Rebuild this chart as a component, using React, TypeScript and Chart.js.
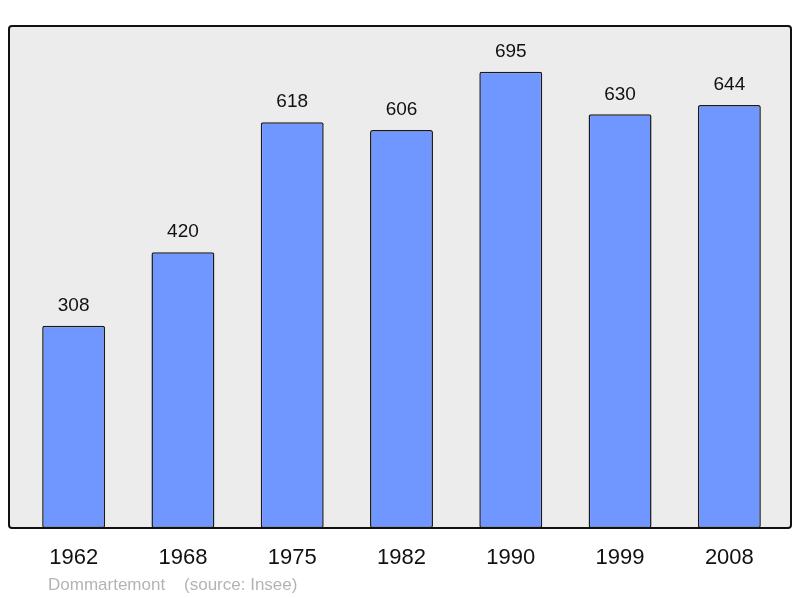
import React, { useEffect, useRef } from "react";
import { Chart, registerables } from "chart.js";

Chart.register(...registerables);

const years = ["1962", "1968", "1975", "1982", "1990", "1999", "2008"];
const population = [308, 420, 618, 606, 695, 630, 644];
const footerText = "Dommartemont    (source: Insee)";

const FONT = "'Liberation Sans', Arial, sans-serif";

const framePlugin = {
  id: "frame",
  beforeDraw(chart: any) {
    const { ctx, chartArea } = chart;
    const l = chartArea.left - 10;
    const r = chartArea.right + 7;
    const t = chartArea.top;
    const b = chartArea.bottom;
    ctx.save();
    ctx.beginPath();
    ctx.roundRect(l, t, r - l, b - t, 3);
    ctx.fillStyle = "#ececec";
    ctx.fill();
    ctx.restore();
  },
  afterDatasetsDraw(chart: any) {
    const { ctx, chartArea } = chart;
    const l = chartArea.left - 10;
    const r = chartArea.right + 7;
    const t = chartArea.top;
    const b = chartArea.bottom;
    ctx.save();
    ctx.beginPath();
    ctx.roundRect(l, t, r - l, b - t, 3);
    ctx.lineWidth = 2;
    ctx.strokeStyle = "#111";
    ctx.stroke();
    // value labels
    const meta = chart.getDatasetMeta(0);
    ctx.fillStyle = "#111";
    ctx.font = `19px ${FONT}`;
    ctx.textAlign = "center";
    ctx.textBaseline = "middle";
    meta.data.forEach((bar: any, i: number) => {
      ctx.fillText(String(chart.data.datasets[0].data[i]), bar.x, bar.y - 20);
    });
    // footer
    ctx.fillStyle = "#b4b4b4";
    ctx.font = `17px ${FONT}`;
    ctx.textAlign = "left";
    ctx.fillText(footerText, 48, 585);
    ctx.restore();
  },
};

export default function App() {
  const ref = useRef<HTMLCanvasElement>(null);
  useEffect(() => {
    const chart = new Chart(ref.current!, {
      type: "bar",
      data: {
        labels: years,
        datasets: [
          {
            data: population,
            backgroundColor: "#7097ff",
            borderColor: "#1a1a1a",
            borderWidth: 1.5,
            borderRadius: 2,
            borderSkipped: false,
            barPercentage: 0.576,
            categoryPercentage: 1,
          },
        ],
      },
      options: {
        animation: false,
        responsive: false,
        maintainAspectRatio: false,
        layout: { padding: { left: 19, right: 16, top: 26, bottom: 0 } },
        plugins: { legend: { display: false }, tooltip: { enabled: false } },
        scales: {
          x: {
            grid: { display: false, drawTicks: false },
            border: { display: false },
            ticks: {
              color: "#111",
              font: { size: 22, family: FONT },
              padding: 17,
            },
            afterFit: (scale: any) => {
              scale.height = 70;
            },
          },
          y: {
            display: false,
            min: 0,
            max: 764.5,
          },
        },
      },
      plugins: [framePlugin],
    });
    return () => chart.destroy();
  }, []);
  return (
    <div style={{ position: "fixed", left: 0, top: 0, width: 800, height: 598, background: "#fff" }}>
      <canvas ref={ref} width={800} height={598} />
    </div>
  );
}
